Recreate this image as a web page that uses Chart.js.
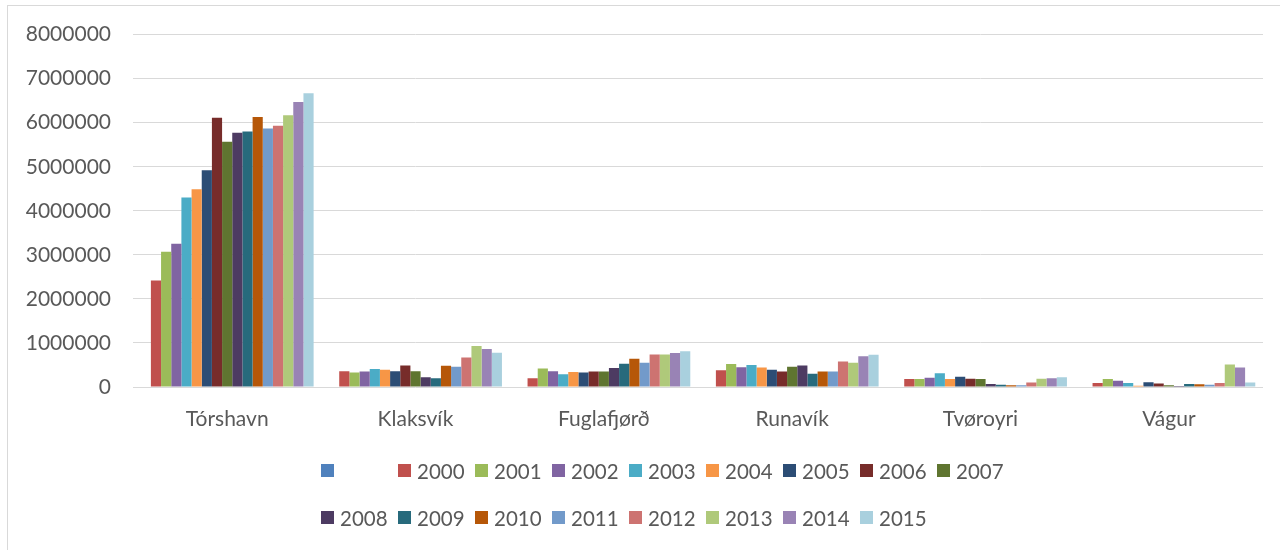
<!DOCTYPE html>
<html>
<head>
<meta charset="utf-8">
<script src="https://cdn.jsdelivr.net/npm/chart.js@4.4.0/dist/chart.umd.min.js"></script>
<style>
  html, body { margin: 0; padding: 0; background: #fff; }
  #wrap { position: relative; width: 1280px; height: 550px; overflow: hidden; }
  #frame {
    position: absolute; left: 7px; top: 5px; width: 1300px; height: 600px;
    border-top: 1px solid #d9d9d9; border-left: 1px solid #d9d9d9;
  }
  #chartBox { position: absolute; left: 0; top: 0; width: 1280px; height: 550px; }
  #legend {
    position: absolute; left: 321px; top: 447px; width: 700px;
    display: flex; flex-wrap: wrap;
    font-family: Lato, "Liberation Sans", sans-serif; font-size: 20.5px; color: #595959;
  }
  .item { width: 77px; height: 47px; display: flex; align-items: center; white-space: nowrap; }
  .box { width: 13px; height: 13px; margin-right: 6px; flex: none; }
</style>
</head>
<body>
<div id="wrap">
  <div id="frame"></div>
  <div id="chartBox"><canvas id="chart"></canvas></div>
  <div id="legend"></div>
</div>
<script>
const categories = ["Tórshavn", "Klaksvík", "Fuglafjørð", "Runavík", "Tvøroyri", "Vágur"];

// first series has no name and no values
const seriesLabels = ["", "2000", "2001", "2002", "2003", "2004", "2005", "2006", "2007",
  "2008", "2009", "2010", "2011", "2012", "2013", "2014", "2015"];

// values per town, 2000..2015
const torshavn   = [2420000, 3070000, 3250000, 4300000, 4490000, 4920000, 6110000, 5570000,
                    5770000, 5800000, 6130000, 5870000, 5930000, 6170000, 6470000, 6670000];
const klaksvik   = [360000, 330000, 350000, 410000, 390000, 360000, 490000, 360000,
                    220000, 200000, 480000, 460000, 670000, 930000, 860000, 780000];
const fuglafjord = [200000, 420000, 360000, 290000, 340000, 330000, 350000, 350000,
                    430000, 530000, 640000, 550000, 740000, 740000, 770000, 810000];
const runavik    = [380000, 520000, 450000, 500000, 440000, 390000, 350000, 460000,
                    490000, 300000, 350000, 350000, 580000, 550000, 700000, 730000];
const tvoroyri   = [180000, 180000, 210000, 310000, 180000, 230000, 190000, 180000,
                    70000, 50000, 40000, 40000, 100000, 190000, 200000, 220000];
const vagur      = [90000, 180000, 140000, 90000, 30000, 110000, 80000, 40000,
                    20000, 70000, 60000, 50000, 90000, 510000, 440000, 100000];

const yTicks = [0, 1000000, 2000000, 3000000, 4000000, 5000000, 6000000, 7000000, 8000000];

const colors = ["#4F81BD", "#C0504D", "#9BBB59", "#8064A2", "#4BACC6", "#F79646", "#2C4D75",
  "#772C2A", "#5F7530", "#4D3B62", "#276A7C", "#B65708", "#729ACA", "#CD7371", "#AFC97A",
  "#9983B5", "#A9D0DE"];

const towns = [torshavn, klaksvik, fuglafjord, runavik, tvoroyri, vagur];

const datasets = seriesLabels.map((label, i) => ({
  label: label,
  data: i === 0 ? towns.map(() => null) : towns.map((t) => t[i - 1]),
  backgroundColor: colors[i],
  borderWidth: 0,
}));

const font = { family: "Lato, 'Liberation Sans', sans-serif", size: 21 };

const chart = new Chart(document.getElementById("chart"), {
  type: "bar",
  data: { labels: categories, datasets: datasets },
  options: {
    responsive: true,
    maintainAspectRatio: false,
    animation: false,
    categoryPercentage: 0.918,
    barPercentage: 1.0,
    layout: { padding: { left: 0, right: 17, top: 27, bottom: 120 } },
    plugins: {
      legend: { display: false },
      tooltip: { enabled: false },
    },
    scales: {
      y: {
        min: 0,
        max: 8000000,
        afterBuildTicks: (scale) => { scale.ticks = yTicks.map((v) => ({ value: v })); },
        afterFit: (scale) => { scale.width = 133; },
        border: { display: false },
        grid: { color: "#d9d9d9", lineWidth: 1, drawTicks: false },
        ticks: {
          font: font,
          color: "#595959",
          padding: 22,
          callback: function (value) {
            return String(value);
          },
        },
      },
      x: {
        afterFit: (scale) => { scale.height = 43; },
        border: { display: false },
        grid: { display: false, drawTicks: false },
        ticks: { font: font, color: "#595959", padding: 20 },
      },
    },
  },
});

// legend with fixed-width entries, like the spreadsheet legend
const legendEl = document.getElementById("legend");
chart.data.datasets.forEach((ds) => {
  const item = document.createElement("div");
  item.className = "item";
  const box = document.createElement("span");
  box.className = "box";
  box.style.background = ds.backgroundColor;
  const text = document.createElement("span");
  text.textContent = ds.label;
  item.appendChild(box);
  item.appendChild(text);
  legendEl.appendChild(item);
});
</script>
</body>
</html>
